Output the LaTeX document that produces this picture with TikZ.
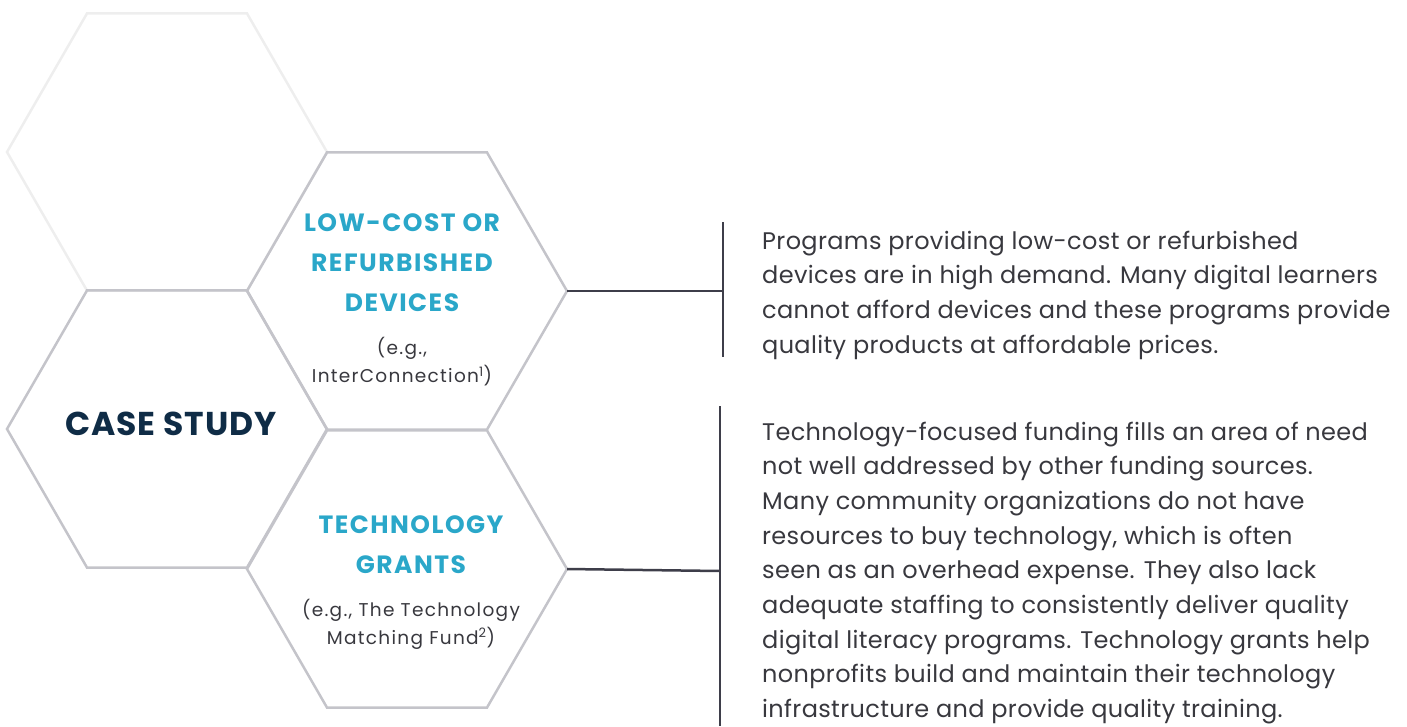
\documentclass[tikz,border=0pt]{standalone}
\usepackage{fontspec}
\setmainfont{Poppins}
\usetikzlibrary{shapes.geometric}

\definecolor{tealhead}{HTML}{2AA7C9}
\definecolor{navyhead}{HTML}{0F2C46}
\definecolor{bodygray}{HTML}{38383E}
\definecolor{hexline}{HTML}{C4C4CA}
\definecolor{hexfaint}{HTML}{EEEEEE}
\definecolor{barline}{HTML}{3E3E4A}

\tikzset{
  hexa/.style={regular polygon, regular polygon sides=6, minimum size=320pt,
    inner sep=0pt, outer sep=0pt, draw=hexline, line width=2.5pt},
  heading/.style={text=tealhead, align=center,
    font=\fontsize{25}{40}\selectfont\bfseries\addfontfeature{LetterSpace=6}},
  example/.style={text=bodygray, align=center,
    font=\fontsize{18.5}{28}\selectfont\addfontfeature{LetterSpace=7}},
  para/.style={text=bodygray, align=left, anchor=north west, inner sep=0pt,
    font=\fontsize{24}{34.7}\selectfont\addfontfeature{LetterSpace=1.5}},
  bar/.style={draw=barline, line width=2.5pt}
}

\begin{document}
\begin{tikzpicture}[x=1pt,y=-1pt]
  \useasboundingbox (0,0) rectangle (1407,726);
  \node[hexa, draw=hexfaint] (hexTop)   at (167,152) {};
  \node[hexa]                (hexCase)  at (167,429) {};
  \node[hexa]                (hexLow)   at (407,291) {};
  \node[hexa]                (hexGrant) at (407,569) {};

  \node[text=navyhead, font=\fontsize{33}{36}\selectfont\bfseries\addfontfeature{LetterSpace=3}] (caseText) at (171,424) {CASE STUDY};

  \node[heading] (lowTitle) at (402,263) {LOW-COST OR\\REFURBISHED\\DEVICES};
  \node[example] (lowEx) at (402,362) {(e.g.,\\InterConnection\textsuperscript{1})};
  \node[heading] (grantTitle) at (411,545) {TECHNOLOGY\\GRANTS};
  \node[example] (grantEx) at (411,624) {(e.g., The Technology\\Matching Fund\textsuperscript{2})};

  % connectors and brackets
  \coordinate (lowJoin) at (723,291);
  \coordinate (lowTop) at (723,222);
  \coordinate (lowBot) at (723,357);
  \coordinate (grantJoin) at (720,571);
  \coordinate (grantTop) at (720,406);
  \coordinate (grantBot) at (720,726);
  \draw[bar] (hexLow.east) -- (lowJoin);
  \draw[bar] (lowTop) -- (lowBot);
  \draw[bar] (hexGrant.east) -- (grantJoin);
  \draw[bar] (grantTop) -- (grantBot);

  \node[para] (lowPara) at (762,230.5) {Programs providing low-cost or refurbished\\
    devices are in high demand. Many digital learners\\
    cannot afford devices and these programs provide\\
    quality products at affordable prices.};
  \node[para] (grantPara) at (762,421.5) {Technology-focused funding fills an area of need\\
    not well addressed by other funding sources.\\
    Many community organizations do not have\\
    resources to buy technology, which is often\\
    seen as an overhead expense. They also lack\\
    adequate staffing to consistently deliver quality\\
    digital literacy programs. Technology grants help\\
    nonprofits build and maintain their technology\\
    infrastructure and provide quality training.};
\end{tikzpicture}
\end{document}
